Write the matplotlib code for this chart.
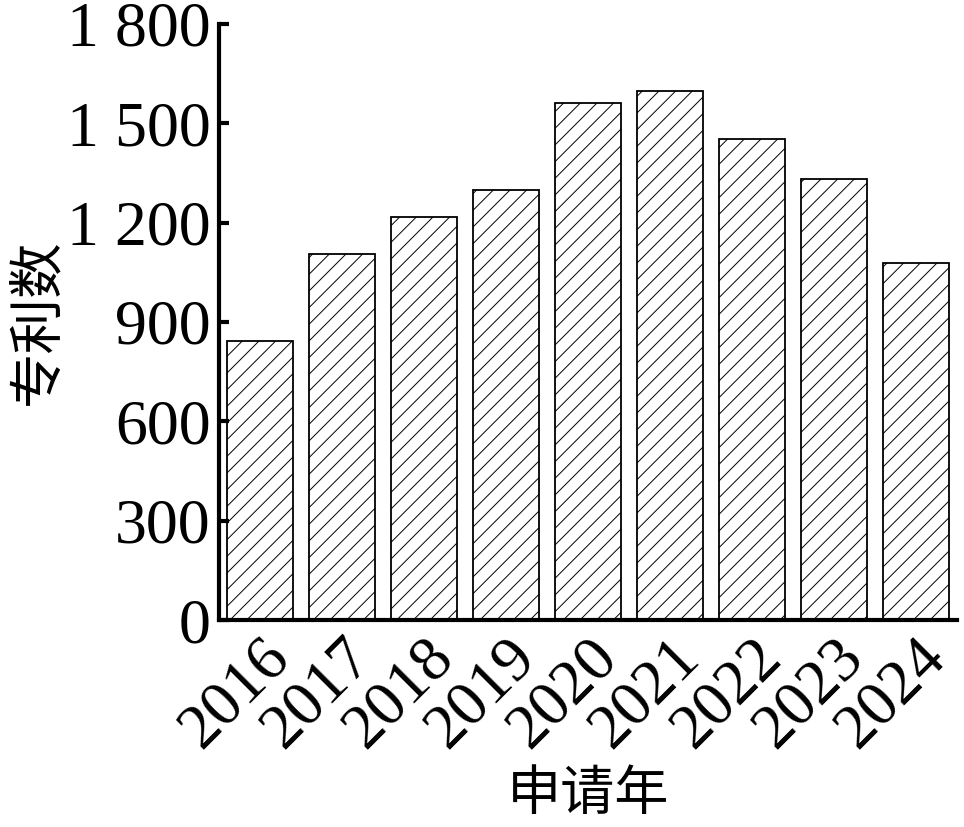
import matplotlib.pyplot as plt
from matplotlib.ticker import FixedLocator

years = ['2016', '2017', '2018', '2019', '2020', '2021', '2022', '2023', '2024']
patents = [843, 1104, 1218, 1299, 1562, 1599, 1453, 1333, 1079]
yticks = [0, 300, 600, 900, 1200, 1500, 1800]
ytick_labels = ['0', '300', '600', '900', '1 200', '1 500', '1 800']

plt.rcParams['font.family'] = ['Liberation Serif', 'Noto Sans CJK SC']
plt.rcParams['hatch.linewidth'] = 0.7

fig = plt.figure(figsize=(9.64, 8.27), dpi=100)
ax = fig.add_axes([0.227, 0.2503, 0.766, 0.7207])

x = range(len(years))
ax.bar(x, patents, width=0.8, color='white', edgecolor='black',
       linewidth=1.3, hatch='//')

ax.set_xlim(-0.5, len(years) - 0.5)
ax.set_ylim(0, 1800)
ax.yaxis.set_major_locator(FixedLocator(yticks))
ax.set_yticklabels(ytick_labels)
ax.set_xticks(list(x))
ax.set_xticklabels(years, rotation=45, ha='right', rotation_mode='anchor')

ax.spines['top'].set_visible(False)
ax.spines['right'].set_visible(False)
ax.spines['left'].set_linewidth(3)
ax.spines['bottom'].set_linewidth(3)
ax.tick_params(axis='y', direction='in', length=7, width=3, labelsize=46, pad=6)
ax.tick_params(axis='x', length=0, labelsize=46, pad=6)

ax.set_ylabel('专利数', fontsize=40, family=['Noto Sans CJK SC'], labelpad=0)
ax.set_xlabel('申请年', fontsize=39, family=['Noto Sans CJK SC'], labelpad=5)

plt.savefig('out.png', dpi=100)
